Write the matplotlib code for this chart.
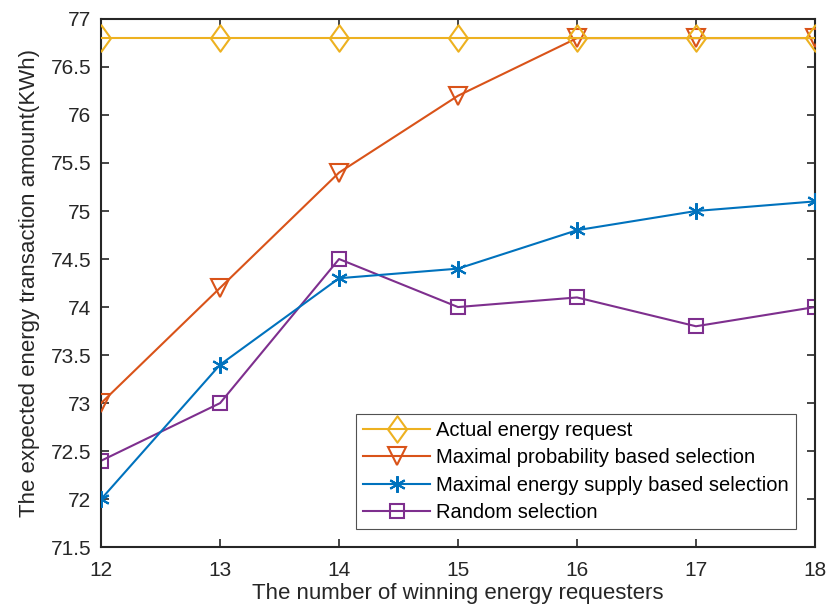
import matplotlib
matplotlib.use("Agg")
import matplotlib.pyplot as plt

plt.rcParams["font.family"] = ["Liberation Sans", "DejaVu Sans"]

winners = [12, 13, 14, 15, 16, 17, 18]
actual = [76.8, 76.8, 76.8, 76.8, 76.8, 76.8, 76.8]
max_prob = [73.0, 74.2, 75.4, 76.2, 76.8, 76.8, 76.8]
max_supply = [72.0, 73.4, 74.3, 74.4, 74.8, 75.0, 75.1]
random_sel = [72.4, 73.0, 74.5, 74.0, 74.1, 73.8, 74.0]

fig = plt.figure(figsize=(8.29, 6.10), dpi=100)
ax = fig.add_axes([0.122, 0.103, 0.861, 0.866])

# MATLAB style markers: 6-arm asterisk, slightly narrow diamond
asterisk = (6, 2, 0)
diamond = [(-0.72, 0), (0, 1), (0.72, 0), (0, -1), (-0.72, 0)]

ax.plot(winners, actual, "-", marker=diamond, color="#EDB120", lw=1.5, ms=19,
        mfc="none", mew=1.5, label="Actual energy request", zorder=5)
ax.plot(winners, max_prob, "-v", color="#D95319", lw=1.5, ms=13, mfc="none", mew=1.5,
        label="Maximal probability based selection", zorder=4)
ax.plot(winners, max_supply, "-", marker=asterisk, color="#0072BD", lw=1.5, ms=12,
        mew=1.5, label="Maximal energy supply based selection", zorder=3)
ax.plot(winners, random_sel, "-s", color="#7E2F8E", lw=1.5, ms=10, mfc="none", mew=1.5,
        label="Random selection", zorder=2)

ax.set_xlim(12, 18)
ax.set_ylim(71.5, 77)
ax.set_xticks(winners)
ax.set_yticks([71.5, 72, 72.5, 73, 73.5, 74, 74.5, 75, 75.5, 76, 76.5, 77])
ax.set_yticklabels(["71.5", "72", "72.5", "73", "73.5", "74", "74.5", "75",
                    "75.5", "76", "76.5", "77"])
ax.tick_params(direction="in", top=True, right=True, labelsize=15,
               length=6, width=1.2, colors="#262626")
ax.tick_params(axis="x", pad=10)
ax.tick_params(axis="y", pad=7)
for s in ax.spines.values():
    s.set_linewidth(1.5)
    s.set_color("#262626")

ax.set_xlabel("The number of winning energy requesters", fontsize=16, labelpad=2,
              color="#262626")
ax.set_ylabel("The expected energy transaction amount(KWh)", fontsize=16, labelpad=8,
              color="#262626")

leg = ax.legend(loc="lower right", bbox_to_anchor=(0.973, 0.034), fontsize=14.5,
                frameon=True, fancybox=False, edgecolor="#262626", handlelength=3.3,
                handletextpad=0.3, labelspacing=0.42, borderpad=0.35, borderaxespad=0)
leg.get_frame().set_linewidth(0.8)

fig.savefig("out.png", dpi=100)
